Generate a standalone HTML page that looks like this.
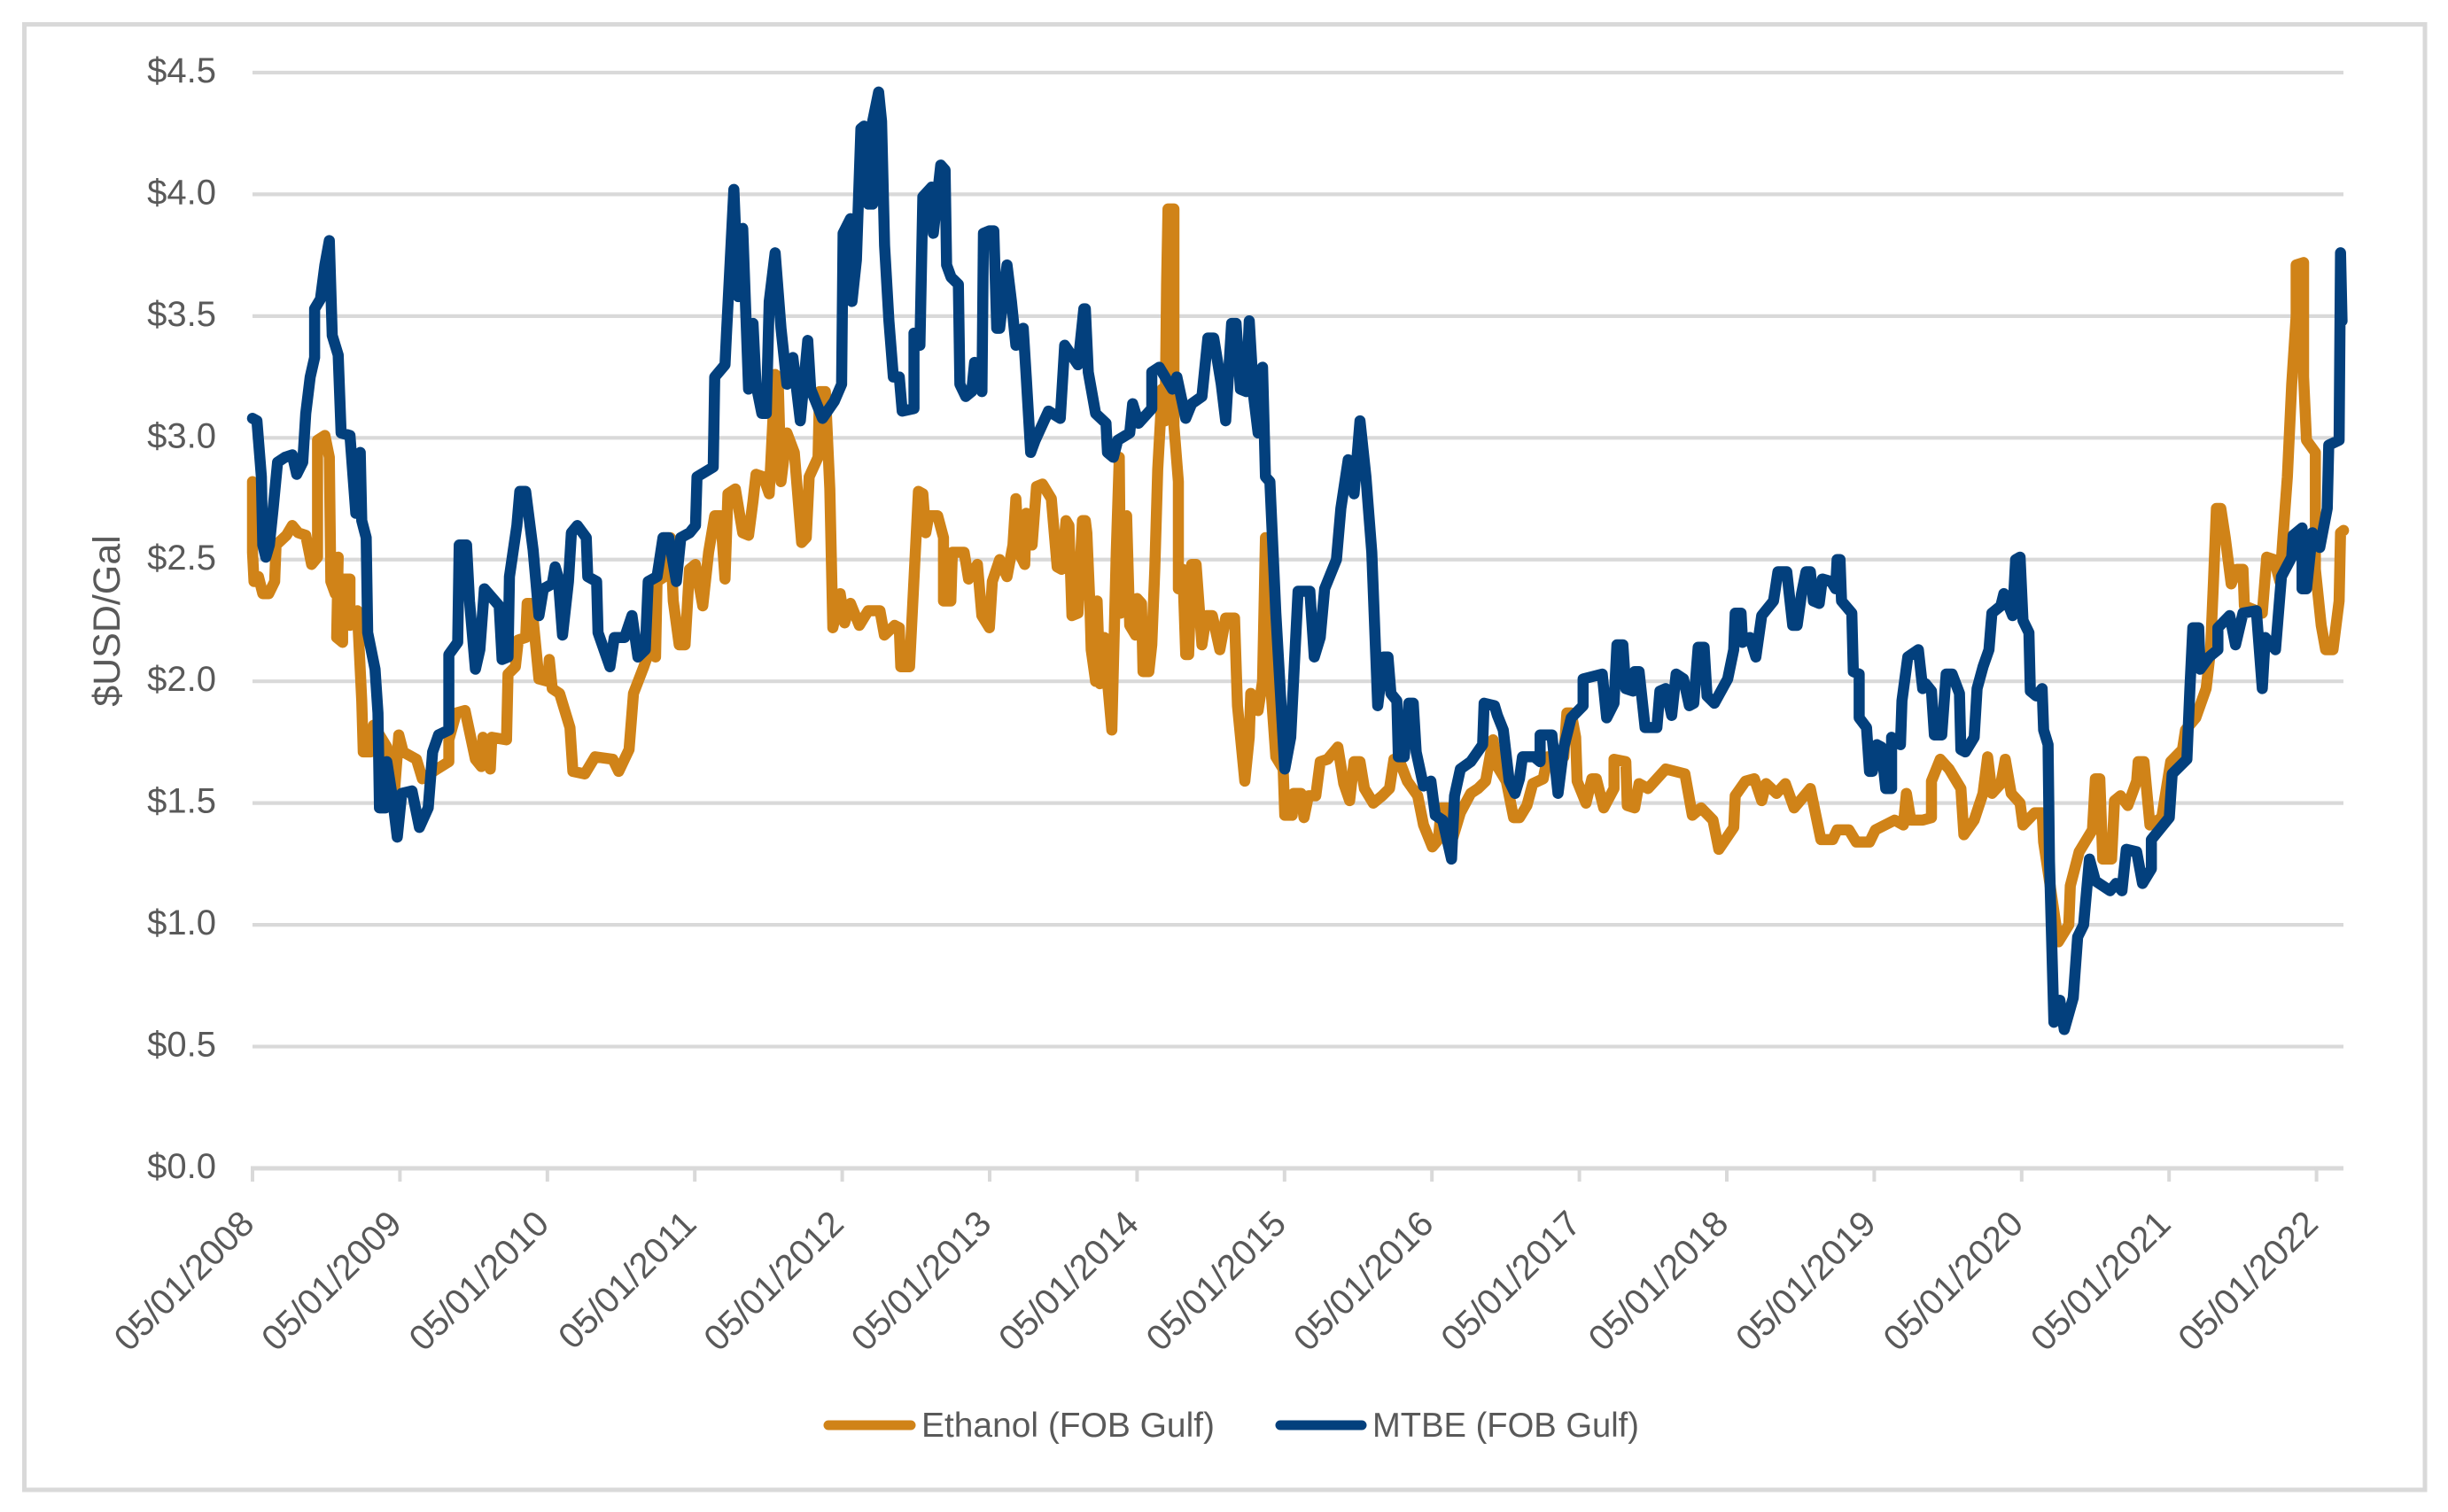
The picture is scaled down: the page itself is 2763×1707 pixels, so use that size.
<!DOCTYPE html>
<html lang="en">
<head>
<meta charset="utf-8">
<title>Ethanol vs MTBE FOB Gulf prices</title>
<style>
  html, body { margin: 0; padding: 0; background: #ffffff; }
  svg { display: block; }
  text { font-family: "Liberation Sans", sans-serif; fill: #595959; }
</style>
</head>
<body>
<svg id="chart" xmlns="http://www.w3.org/2000/svg" width="2763" height="1707" viewBox="0 0 2763 1707">
  <rect x="0" y="0" width="2763" height="1707" fill="#ffffff"/>
  <rect x="27.5" y="27.5" width="2709.5" height="1654.5" fill="#ffffff" stroke="#d9d9d9" stroke-width="5"/>
  <g id="grid"></g>
  <g id="xaxis"></g>
  <g id="yaxis"></g>
  <text transform="translate(135 701) rotate(-90)" text-anchor="middle" font-size="43">$USD/Gal</text>
  <g id="series"></g>
  <g>
    <g>
      <line x1="935" y1="1609" x2="1028" y2="1609" stroke="#d08318" stroke-width="11" stroke-linecap="round"/>
      <text x="1040" y="1622" font-size="39" textLength="331" lengthAdjust="spacingAndGlyphs">Ethanol (FOB Gulf)</text>
    </g>
    <g>
      <line x1="1445" y1="1609" x2="1537" y2="1609" stroke="#03407d" stroke-width="11" stroke-linecap="round"/>
      <text x="1549" y="1622" font-size="39" textLength="301" lengthAdjust="spacingAndGlyphs">MTBE (FOB Gulf)</text>
    </g>
  </g>
</svg>
<script>
// Tick labels
const xTickLabels = ["05/01/2008","05/01/2009","05/01/2010","05/01/2011","05/01/2012","05/01/2013","05/01/2014","05/01/2015","05/01/2016","05/01/2017","05/01/2018","05/01/2019","05/01/2020","05/01/2021","05/01/2022"];
const yTickValues = [0,0.5,1,1.5,2,2.5,3,3.5,4,4.5];
const yTickLabels = ["$0.0","$0.5","$1.0","$1.5","$2.0","$2.5","$3.0","$3.5","$4.0","$4.5"];

// Ethanol (FOB Gulf): time in years after the first tick, and $/gal
const ethanolYears = [0,0,.010,.040,.070,.110,.150,.160,.230,.270,.310,.361,.401,.441,.441,.491,.521,.531,.561,.581,.571,.611,.611,.661,.661,.711,.741,.751,.801,.821,.911,.931,.962,.992,1.022,1.112,1.152,1.252,1.332,1.332,1.382,1.442,1.512,1.552,1.563,1.613,1.623,1.723,1.733,1.783,1.803,1.853,1.863,1.893,1.943,2.003,2.013,2.033,2.083,2.153,2.173,2.254,2.324,2.444,2.484,2.554,2.584,2.654,2.694,2.734,2.744,2.794,2.835,
2.854,2.894,2.934,2.964,3.004,3.054,3.094,3.135,3.175,3.205,3.225,3.275,3.325,3.365,3.395,3.415,3.465,3.505,3.545,3.565,3.585,3.625,3.675,3.725,3.756,3.776,3.836,3.846,3.886,3.916,3.936,3.986,4.016,4.056,4.116,4.176,4.256,4.286,4.356,4.387,4.397,4.457,4.517,4.547,4.567,4.587,4.647,4.687,4.687,4.737,4.747,4.827,4.857,4.917,4.947,4.998,5.018,5.068,5.118,5.158,5.178,5.198,5.238,5.248,5.288,5.318,5.358,5.418,5.458,5.488,5.518,5.538,5.558,5.599,5.629,5.649,
5.659,5.679,5.689,5.719,5.729,5.749,5.779,5.799,5.829,5.859,5.879,5.889,5.929,5.950,5.990,6.000,6.030,6.040,6.080,6.100,6.120,6.140,6.170,6.190,6.200,6.210,6.250,6.250,6.280,6.280,6.310,6.330,6.350,6.370,6.400,6.440,6.470,6.510,6.561,6.601,6.661,6.681,6.731,6.761,6.771,6.821,6.851,6.871,6.901,6.941,6.991,7.002,7.052,7.062,7.112,7.132,7.162,7.212,7.242,7.292,7.362,7.402,7.442,7.472,7.512,7.542,7.602,7.662,7.712,7.742,7.782,7.833,7.903,7.943,8.003,8.043,8.063,8.113,8.143,8.193,8.263,8.313,8.364,8.414,8.444,
8.504,8.554,8.594,8.644,8.684,8.755,8.785,8.895,8.915,8.945,8.975,8.985,9.045,9.085,9.115,9.165,9.235,9.235,9.315,9.325,9.375,9.405,9.466,9.586,9.716,9.766,9.826,9.906,9.946,10.047,10.057,10.127,10.187,10.237,10.267,10.337,10.397,10.457,10.567,10.638,10.718,10.748,10.828,10.878,10.968,11.008,11.138,11.198,11.218,11.248,11.329,
11.388,11.388,11.448,11.508,11.588,11.608,11.678,11.738,11.769,11.799,11.859,11.889,11.929,11.989,12.009,12.089,12.139,12.149,12.189,12.249,12.320,12.330,12.390,12.480,12.500,12.530,12.550,12.610,12.630,12.670,12.720,12.780,12.790,12.830,12.870,12.950,13.011,13.091,13.111,13.181,13.251,13.281,13.301,13.321,13.351,13.381,13.421,13.461,13.501,13.511,13.632,13.662,13.712,13.752,13.772,13.802,13.832,13.862,13.862,13.912,13.912,13.932,13.992,13.992,14.032,14.062,14.112,14.153,14.163,14.183];
const ethanolPrices = [2.82,2.53,2.41,2.43,2.36,2.36,2.41,2.56,2.60,2.64,2.61,2.60,2.48,2.51,2.99,3.01,2.92,2.41,2.36,2.51,2.18,2.16,2.42,2.42,2.23,2.29,1.92,1.71,1.71,1.82,1.73,1.59,1.54,1.78,1.71,1.68,1.60,1.64,1.67,1.76,1.87,1.88,1.68,1.65,1.77,1.64,1.77,1.76,2.03,2.06,2.17,2.18,2.32,2.32,2.01,2.00,2.09,1.97,1.95,1.81,1.63,1.62,1.69,1.68,1.63,1.72,1.95,2.06,2.13,2.10,2.41,2.43,2.59,
2.33,2.15,2.15,2.46,2.48,2.31,2.53,2.68,2.68,2.42,2.77,2.79,2.61,2.60,2.74,2.85,2.84,2.77,3.26,3.25,2.82,3.02,2.94,2.57,2.59,2.84,2.92,3.19,3.19,2.79,2.22,2.36,2.24,2.32,2.23,2.29,2.29,2.19,2.23,2.22,2.06,2.06,2.78,2.77,2.61,2.68,2.68,2.59,2.33,2.33,2.53,2.53,2.42,2.48,2.27,2.22,2.41,2.50,2.43,2.56,2.75,2.53,2.48,2.69,2.56,2.80,2.81,2.75,2.47,2.46,2.66,2.64,2.27,2.28,2.66,2.66,
2.61,2.33,2.13,2.00,2.33,1.99,2.18,2.00,1.80,2.53,2.92,2.28,2.68,2.23,2.19,2.34,2.32,2.04,2.04,2.15,2.46,2.87,3.20,3.07,3.63,3.94,3.94,3.05,2.82,2.38,2.46,2.11,2.11,2.48,2.48,2.15,2.27,2.27,2.13,2.26,2.26,1.90,1.59,1.77,1.95,1.88,2.00,2.59,2.03,1.69,1.64,1.45,1.45,1.54,1.54,1.44,1.53,1.53,1.67,1.68,1.73,1.58,1.51,1.67,1.67,1.56,1.50,1.53,1.56,1.68,1.67,1.59,1.53,1.41,1.32,1.35,1.48,1.48,1.36,1.46,1.54,1.56,1.59,1.76,1.65,
1.59,1.44,1.44,1.49,1.58,1.60,1.69,1.69,1.87,1.87,1.77,1.59,1.50,1.60,1.60,1.48,1.56,1.68,1.67,1.49,1.48,1.58,1.56,1.64,1.62,1.45,1.48,1.43,1.31,1.40,1.53,1.59,1.60,1.51,1.58,1.54,1.58,1.48,1.56,1.35,1.35,1.39,1.39,1.34,1.34,1.39,1.43,1.41,1.54,1.43,1.43,
1.44,1.59,1.68,1.64,1.56,1.37,1.43,1.54,1.69,1.54,1.58,1.68,1.54,1.50,1.41,1.46,1.46,1.34,1.18,0.93,1.00,1.16,1.30,1.39,1.60,1.60,1.27,1.27,1.51,1.53,1.49,1.59,1.67,1.67,1.41,1.44,1.67,1.72,1.80,1.85,1.97,2.13,2.41,2.71,2.71,2.59,2.40,2.46,2.46,2.31,2.28,2.51,2.50,2.41,2.59,2.84,3.22,3.50,3.71,3.72,3.25,2.99,2.94,2.46,2.23,2.13,2.13,2.33,2.61,2.62];

// MTBE (FOB Gulf): time in years after the first tick, and $/gal
const mtbeYears = [0,.030,.060,.070,.090,.114,.140,.170,.220,.270,.300,.341,.361,.391,.421,.421,.461,.491,.521,.541,.581,.601,.661,.701,.731,.741,.771,.781,.831,.851,.861,.901,.911,.952,.982,1.012,1.082,1.132,1.192,1.222,1.262,1.332,1.332,1.392,1.402,1.452,1.472,1.512,1.542,1.573,1.673,1.693,1.733,1.743,1.793,1.813,1.853,1.903,1.943,1.973,2.033,2.053,2.073,2.103,2.143,2.163,2.203,2.264,2.274,2.334,2.344,2.424,2.454,2.524,2.574,2.614,2.664,2.684,2.744,2.784,2.824,
2.875,2.905,2.965,3.005,3.015,3.125,3.135,3.205,3.215,3.265,3.295,3.325,3.365,3.395,3.415,3.455,3.485,3.505,3.545,3.585,3.625,3.665,3.716,3.766,3.786,3.866,3.946,3.996,4.006,4.056,4.066,4.096,4.127,4.147,4.177,4.207,4.207,4.247,4.267,4.287,4.317,4.347,4.387,4.407,4.487,4.487,4.527,4.547,4.607,4.618,4.668,4.698,4.708,4.738,4.788,4.798,4.838,4.878,4.898,4.948,4.958,4.998,5.028,5.048,5.068,5.118,5.148,5.178,5.228,5.248,5.278,5.309,5.399,5.479,5.509,5.599,5.639,
5.649,5.669,5.719,5.789,5.799,5.839,5.869,5.950,5.970,6.010,6.100,6.100,6.150,6.240,6.270,6.330,6.370,6.440,6.480,6.520,6.571,6.601,6.641,6.671,6.701,6.741,6.761,6.791,6.821,6.851,6.871,6.901,6.941,7.002,7.042,7.092,7.172,7.202,7.242,7.272,7.352,7.382,7.432,7.472,7.512,7.552,7.592,7.632,7.672,7.702,7.722,7.762,7.772,7.812,7.843,7.873,7.893,7.943,7.993,8.023,8.073,8.133,8.153,8.193,8.263,8.344,8.354,8.424,
8.444,8.484,8.524,8.564,8.594,8.614,8.694,8.734,8.734,8.814,8.855,8.895,8.945,9.025,9.025,9.155,9.185,9.235,9.255,9.295,9.315,9.365,9.375,9.405,9.446,9.526,9.546,9.586,9.626,9.656,9.706,9.746,9.776,9.806,9.846,9.866,9.916,10.006,10.047,10.057,10.097,10.107,10.157,10.197,10.237,10.317,10.347,10.407,10.447,10.477,10.507,10.537,10.567,10.587,10.627,10.648,10.708,10.738,10.748,10.768,10.778,10.848,10.858,10.898,10.898,10.948,10.968,10.988,11.018,11.048,11.078,11.118,11.118,11.178,11.188,11.228,11.299,11.329,
11.348,11.388,11.408,11.458,11.488,11.528,11.578,11.588,11.618,11.678,11.698,11.738,11.778,11.798,11.859,11.879,11.939,11.959,11.989,12.009,12.049,12.059,12.099,12.139,12.149,12.179,12.189,12.219,12.259,12.289,12.350,12.380,12.420,12.460,12.500,12.600,12.640,12.680,12.710,12.780,12.820,12.880,12.880,13.001,13.021,13.121,13.141,13.161,13.201,13.211,13.271,13.331,13.331,13.411,13.451,13.501,13.592,13.632,13.652,13.722,13.762,13.832,13.842,13.902,13.902,13.932,13.972,14.022,14.073,14.083,14.153,14.163,14.173];
const mtbePrices = [3.08,3.07,2.84,2.56,2.51,2.56,2.71,2.90,2.92,2.93,2.85,2.90,3.10,3.25,3.33,3.53,3.57,3.71,3.81,3.42,3.34,3.02,3.01,2.69,2.94,2.66,2.59,2.20,2.05,1.87,1.48,1.48,1.67,1.51,1.36,1.54,1.55,1.40,1.48,1.71,1.78,1.80,2.11,2.16,2.56,2.56,2.33,2.05,2.13,2.38,2.31,2.09,2.10,2.43,2.64,2.78,2.78,2.54,2.27,2.38,2.40,2.47,2.43,2.19,2.41,2.61,2.64,2.59,2.43,2.41,2.20,2.06,2.18,2.18,2.27,2.10,2.13,2.41,2.43,2.59,2.59,
2.41,2.59,2.61,2.64,2.84,2.88,3.25,3.30,3.43,4.02,3.58,3.86,3.20,3.47,3.22,3.10,3.10,3.56,3.76,3.45,3.22,3.33,3.07,3.40,3.20,3.08,3.15,3.22,3.84,3.90,3.56,3.73,4.27,4.28,3.96,3.96,4.30,4.42,4.30,3.79,3.48,3.25,3.25,3.11,3.12,3.43,3.38,3.99,4.03,3.84,4.12,4.10,3.71,3.66,3.63,3.22,3.17,3.19,3.31,3.19,3.84,3.85,3.85,3.45,3.45,3.71,3.56,3.38,3.45,3.25,2.94,2.99,3.11,3.08,3.38,3.30,3.53,
3.53,3.27,3.10,3.06,2.94,2.92,2.99,3.02,3.14,3.06,3.12,3.27,3.29,3.20,3.25,3.08,3.14,3.17,3.41,3.41,3.22,3.07,3.47,3.47,3.20,3.19,3.48,3.17,3.02,3.29,2.84,2.82,2.28,1.64,1.77,2.37,2.37,2.10,2.18,2.38,2.50,2.71,2.91,2.77,3.07,2.84,2.53,1.90,2.10,2.10,1.95,1.92,1.69,1.69,1.91,1.91,1.71,1.57,1.59,1.45,1.43,1.27,1.53,1.64,1.67,1.74,1.91,1.90,
1.86,1.80,1.59,1.54,1.60,1.69,1.69,1.67,1.78,1.78,1.54,1.73,1.85,1.90,2.01,2.03,1.85,1.91,2.15,2.15,1.97,1.96,2.04,2.04,1.81,1.81,1.96,1.97,1.86,2.03,2.01,1.90,1.91,2.14,2.14,1.94,1.91,2.01,2.13,2.28,2.28,2.16,2.18,2.10,2.27,2.33,2.45,2.45,2.23,2.23,2.36,2.45,2.45,2.33,2.32,2.42,2.41,2.38,2.50,2.50,2.33,2.28,2.04,2.03,1.85,1.81,1.63,1.63,1.74,1.73,1.56,1.56,1.77,1.74,1.92,2.10,2.13,1.97,
1.99,1.96,1.78,1.78,2.03,2.03,1.95,1.72,1.71,1.77,1.97,2.06,2.13,2.28,2.31,2.36,2.27,2.50,2.51,2.25,2.20,1.96,1.94,1.97,1.80,1.74,1.26,0.60,0.69,0.57,0.70,0.95,1.00,1.27,1.18,1.14,1.17,1.14,1.31,1.30,1.17,1.23,1.35,1.44,1.62,1.68,1.97,2.22,2.22,2.05,2.10,2.13,2.22,2.27,2.15,2.28,2.29,1.97,2.18,2.13,2.43,2.51,2.60,2.63,2.38,2.38,2.61,2.55,2.71,2.97,2.99,3.76,3.48];

const SVG_NS = "http://www.w3.org/2000/svg";
const plotLeft = 285, plotRight = 2645;
const yearWidth = 166.4;
const yBase = 1319, yUnit = 274.9;

function xScale(years) { return plotLeft + years * yearWidth; }
function yScale(price) { return yBase - price * yUnit; }

const gridLayer = document.getElementById("grid");
const xLayer = document.getElementById("xaxis");
const yLayer = document.getElementById("yaxis");
const seriesLayer = document.getElementById("series");

function makeEl(tag, attrs) {
  const el = document.createElementNS(SVG_NS, tag);
  for (const k in attrs) el.setAttribute(k, attrs[k]);
  return el;
}

yTickValues.forEach(function (v, i) {
  if (v !== 0) {
    const g = makeEl("line", { x1: plotLeft, x2: plotRight, y1: yScale(v), y2: yScale(v), stroke: "#d9d9d9", "stroke-width": 4.2 });
    
    
    gridLayer.appendChild(g);
  }
  const t = makeEl("text", { x: 244, y: yScale(v) + 11, "text-anchor": "end", "font-size": 40 });
  
  
  t.textContent = yTickLabels[i];
  yLayer.appendChild(t);
});

const axisLine = makeEl("line", { x1: plotLeft - 2, x2: plotRight, y1: yScale(0), y2: yScale(0), stroke: "#d9d9d9", "stroke-width": 5 });


xLayer.appendChild(axisLine);

xTickLabels.forEach(function (label, i) {
  const x = xScale(i);
  const tick = makeEl("line", { x1: x, x2: x, y1: yScale(0), y2: yScale(0) + 15, stroke: "#d9d9d9", "stroke-width": 4 });
  
  
  xLayer.appendChild(tick);
  const ax = x + 4, ay = yScale(0) + 65;
  const t = makeEl("text", { x: ax, y: ay, "text-anchor": "end", "font-size": 40.5, transform: "rotate(-45 " + ax + " " + ay + ")" });
  
  
  t.textContent = label;
  xLayer.appendChild(t);
});

function pathFor(years, prices) {
  let d = "";
  for (let i = 0; i < years.length; i++) {
    d += (i === 0 ? "M" : "L") + xScale(years[i]).toFixed(1) + " " + yScale(prices[i]).toFixed(1);
  }
  return d;
}

const ethanolLine = makeEl("path", { d: pathFor(ethanolYears, ethanolPrices), fill: "none", stroke: "#d08318", "stroke-width": 12.5, "stroke-linejoin": "round", "stroke-linecap": "round" });


seriesLayer.appendChild(ethanolLine);

const mtbeLine = makeEl("path", { d: pathFor(mtbeYears, mtbePrices), fill: "none", stroke: "#03407d", "stroke-width": 12.5, "stroke-linejoin": "round", "stroke-linecap": "round" });


seriesLayer.appendChild(mtbeLine);
</script>
</body>
</html>
